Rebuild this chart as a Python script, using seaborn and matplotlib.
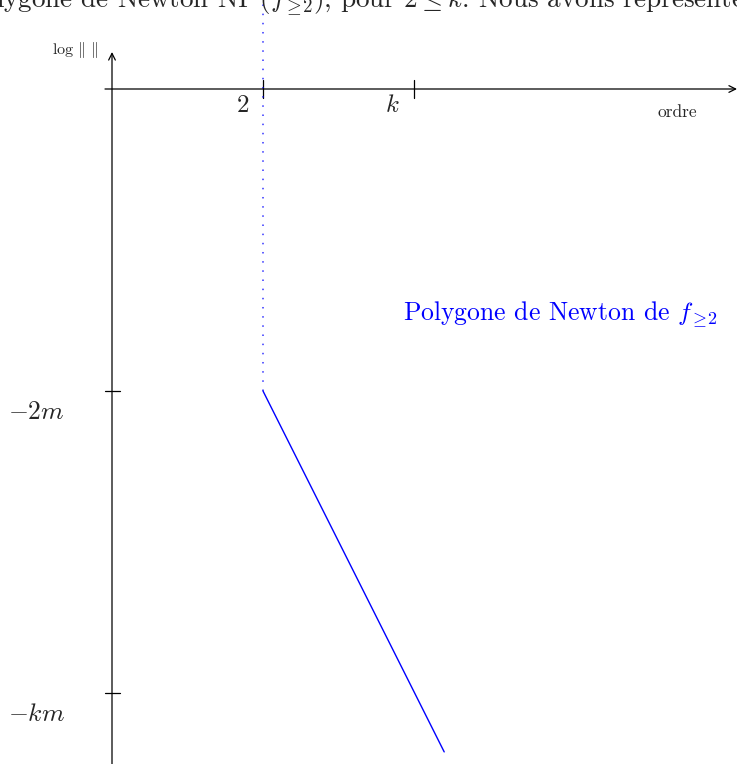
import numpy as np
import pandas as pd
import matplotlib
matplotlib.use("Agg")
import matplotlib.pyplot as plt
import seaborn as sns

# values (x in "order" units, y in units of m)
x_ticks = [2, 4]
x_tick_labels = ["$2$", "$k$"]
y_ticks = [-2, -4]
y_tick_labels = ["$-2m$", "$-km$"]
poly_x = [2, 4.4]
poly_y = [-2, -4.39]
vert_x = [2, 2]
vert_y = [-2, 0.59]

sns.set_theme(style="white")
plt.rcParams["mathtext.fontset"] = "cm"
plt.rcParams["font.family"] = ["cmr10", "DejaVu Serif"]
plt.rcParams["axes.formatter.use_mathtext"] = True

W, H = 737, 764
fig = plt.figure(figsize=(W / 100, H / 100), dpi=100)
ax = fig.add_axes([0, 0, 1, 1])

# pixel layout: origin at (112, 89), 75.5 px per x unit, 151 px per y unit
x0, y0, sx, sy = 112, 89, 75.5, 151
ax.set_xlim(-x0 / sx, (W - x0) / sx)
ax.set_ylim(-(H - y0) / sy, y0 / sy)
ax.axis("off")

# axes with arrows
ax.annotate("", xy=((W - x0) / sx, 0), xytext=(-7 / sx, 0),
            arrowprops=dict(arrowstyle="->", color="black", lw=0.9,
                            shrinkA=0, shrinkB=0))
ax.annotate("", xy=(0, (y0 - 52) / sy), xytext=(0, -(H - y0) / sy),
            arrowprops=dict(arrowstyle="->", color="black", lw=0.9,
                            shrinkA=0, shrinkB=0))

# ticks
for xt in x_ticks:
    ax.plot([xt, xt], [-9 / sy, 9 / sy], color="black", lw=0.9)
for yt in y_ticks:
    ax.plot([-7.5 / sx, 7.5 / sx], [yt, yt], color="black", lw=0.9)

for xt, lab in zip(x_ticks, x_tick_labels):
    ax.text(xt - 14 / sx, -17 / sy, lab, ha="right", va="center", fontsize=18)
for yt, lab in zip(y_ticks, y_tick_labels):
    ax.text(-(x0 - 8) / sx, yt - 21 / sy, lab, ha="left", va="center", fontsize=18.5)

# Newton polygon
df_poly = pd.DataFrame({"x": poly_x, "y": poly_y})
sns.lineplot(data=df_poly, x="x", y="y", ax=ax, color="blue", lw=1.0,
             sort=False, estimator=None)
df_vert = pd.DataFrame({"x": vert_x, "y": vert_y})
sns.lineplot(data=df_vert, x="x", y="y", ax=ax, color="blue", lw=1.1,
             alpha=0.8, linestyle=(0, (1, 5)), sort=False, estimator=None)

# labels
ax.text(-(x0 - 52) / sx, (y0 - 50) / sy, r"log $\Vert\ \Vert$", ha="left",
        va="center", fontsize=11.5)
ax.text((657 - x0) / sx, -(112 - y0) / sy, "ordre", ha="left", va="center",
        fontsize=12.5)
ax.text((403 - x0) / sx, -(315 - y0) / sy, r"Polygone de Newton de $f_{\geq\!2}$",
        ha="left", va="center", fontsize=18.5, color="blue")

# cropped caption text at the top
fig.text(-4 / W, 1 - 9 / H,
         r"lygone de Newton $\mathrm{NP}\,(f_{\geq\!2})$, pour $2 \leq k$. "
         r"Nous avons $\mathrm{repr\acute{e}sent\acute{e}}$",
         ha="left", va="baseline", fontsize=19.5)

fig.savefig("out.png", dpi=100)
